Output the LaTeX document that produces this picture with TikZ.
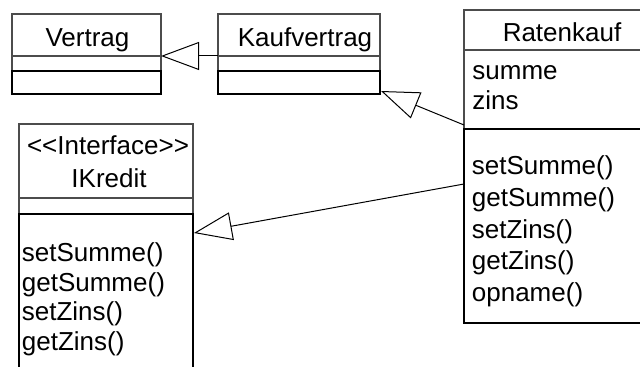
\documentclass[tikz,border=0pt]{standalone}
\usepackage{fontspec}
\setmainfont{Liberation Sans}
\usetikzlibrary{arrows.meta,calc}
\begin{document}
\begin{tikzpicture}[x=0.5pt,y=-0.5pt,
  part/.style={rectangle, inner sep=0pt, outer sep=0pt, anchor=north west},
  thinpart/.style={part, draw=black!70, line width=0.6pt},
  opspart/.style={part, draw=black, line width=1pt},
  title/.style={anchor=base, inner sep=0pt, font=\fontsize{13}{15}\selectfont},
  member/.style={anchor=base west, inner sep=0pt, font=\fontsize{13}{15}\selectfont},
  inherits/.style={draw=black, line width=0.5pt, -{Triangle[open, length=19pt, width=14pt]}}
]
\useasboundingbox (0,0) rectangle (640,367);
\fill[white] (0,0) rectangle (640,367);
\clip (0,0) rectangle (640,367);

% class Vertrag
\node[thinpart, minimum width=74.5pt, minimum height=21pt] (vertrag-name) at (12,14) {};
\node[thinpart, minimum width=74.5pt, minimum height=7.5pt] (vertrag-attr) at (12,56) {};
\node[opspart, minimum width=74.5pt, minimum height=11.5pt] (vertrag-ops) at (12,71) {};
\node[title] (vertrag-title) at (87.5,46.7) {Vertrag};

% class Kaufvertrag
\node[thinpart, minimum width=81pt, minimum height=21pt] (kauf-name) at (218,14) {};
\node[thinpart, minimum width=81pt, minimum height=7.5pt] (kauf-attr) at (218,56) {};
\node[opspart, minimum width=81pt, minimum height=11.5pt] (kauf-ops) at (218,71) {};
\node[title] (kauf-title) at (305,46.7) {Kaufvertrag};

% class Ratenkauf (runs past the right edge)
\node[thinpart, minimum width=98pt, minimum height=20pt] (raten-name) at (464,10) {};
\node[thinpart, minimum width=98pt, minimum height=39.5pt] (raten-attr) at (464,50) {};
\node[opspart, minimum width=98pt, minimum height=97pt] (raten-ops) at (464,129) {};
\node[title] (raten-title) at (562,41.7) {Ratenkauf};
\node[member] (raten-a1) at (472,80) {summe};
\node[member] (raten-a2) at (472,110) {zins};
\node[member] (raten-m1) at (471.5,175) {setSumme()};
\node[member] (raten-m2) at (471.5,206.7) {getSumme()};
\node[member] (raten-m3) at (471.5,238.3) {setZins()};
\node[member] (raten-m4) at (471.5,270) {getZins()};
\node[member] (raten-m5) at (471.5,301.7) {opname()};

% interface IKredit (runs past the bottom edge)
\node[thinpart, minimum width=87pt, minimum height=37pt] (ik-name) at (19,124) {};
\node[thinpart, minimum width=87pt, minimum height=8pt] (ik-attr) at (19,198) {};
\node[opspart, minimum width=87pt, minimum height=85pt] (ik-ops) at (19,214) {};
\node[title] (ik-stereo) at (108,155) {<{}<Interface>{}>};
\node[title] (ik-title) at (109,187.5) {IKredit};
\node[member] (ik-m1) at (21.5,261.7) {setSumme()};
\node[member] (ik-m2) at (21.5,291.7) {getSumme()};
\node[member] (ik-m3) at (21.5,320.7) {setZins()};
\node[member] (ik-m4) at (21.5,350.5) {getZins()};

% generalisation and realisation arrows
\draw[inherits] (kauf-attr.north west) -- (vertrag-attr.north east);
\draw[inherits] ($(raten-attr.south west)+(0,-4)$) -- ($(kauf-ops.south east)+(1,-3)$);
\draw[inherits] ($(raten-ops.north west)+(0,55)$) -- ($(ik-ops.north east)+(1,19)$);
\end{tikzpicture}
\end{document}
